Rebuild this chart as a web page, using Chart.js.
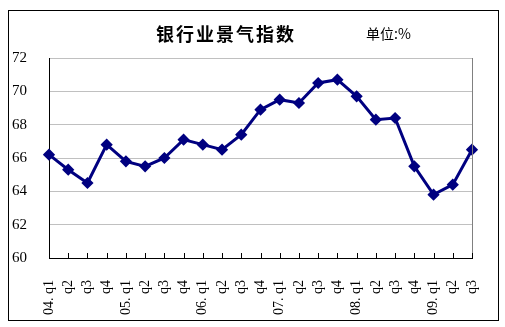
<!DOCTYPE html>
<html lang="zh">
<head>
<meta charset="UTF-8">
<title>银行业景气指数</title>
<style>
    body { margin: 0; background: #fff; }
    .wrap { position: relative; width: 505px; height: 327px; }
    .frame {
        position: absolute; left: 8px; top: 10px; width: 489px; height: 309px;
        border: 1px solid #000; pointer-events: none;
    }
    .title {
        position: absolute; left: 156px; top: 20px;
        font-family: "Noto Sans CJK SC", sans-serif; font-weight: bold;
        font-size: 18px; letter-spacing: 2px; color: #000;
    }
    .unit {
        position: absolute; left: 366px; top: 23px;
        font-family: "Noto Sans CJK SC", sans-serif;
        font-size: 14px; color: #000;
    }
</style>
<script src="https://cdn.jsdelivr.net/npm/chart.js"></script>
</head>
<body>
<div class="wrap">
    <canvas id="chart" width="505" height="327"></canvas>
    <div class="frame"></div>
    <div class="title">银行业景气指数</div>
    <div class="unit">单位:%</div>
</div>
<script>
    var quarters = ['04. q1', 'q2', 'q3', 'q4', '05. q1', 'q2', 'q3', 'q4', '06. q1', 'q2', 'q3', 'q4',
        '07. q1', 'q2', 'q3', 'q4', '08. q1', 'q2', 'q3', 'q4', '09. q1', 'q2', 'q3'];
    var indexValues = [66.2, 65.3, 64.5, 66.8, 65.8, 65.5, 66.0, 67.1, 66.8, 66.5, 67.4, 68.9,
        69.5, 69.3, 70.5, 70.7, 69.7, 68.3, 68.4, 65.5, 63.8, 64.4, 66.5];
    var yMin = 60, yMax = 72, yStep = 2;

    // inward tick marks on the x axis and grey right edge of the plot
    var plotExtras = {
        id: 'plotExtras',
        afterDraw: function (chart) {
            var ctx = chart.ctx, area = chart.chartArea, xs = chart.scales.x;
            ctx.save();
            ctx.strokeStyle = '#808080';
            ctx.lineWidth = 1;
            ctx.beginPath();
            ctx.moveTo(area.right + 0.5, area.top);
            ctx.lineTo(area.right + 0.5, area.bottom);
            ctx.stroke();
            ctx.strokeStyle = '#000';
            for (var i = 0; i < quarters.length; i++) {
                var x = Math.round(xs.getPixelForTick(i)) + 0.5;
                ctx.beginPath();
                ctx.moveTo(x, area.bottom - 5);
                ctx.lineTo(x, area.bottom);
                ctx.stroke();
            }
            ctx.restore();
        }
    };

    new Chart(document.getElementById('chart'), {
        type: 'line',
        data: {
            labels: quarters,
            datasets: [{
                data: indexValues,
                borderColor: '#000080',
                backgroundColor: '#000080',
                borderWidth: 3,
                pointStyle: 'rectRot',
                pointRadius: 4,
                pointHoverRadius: 4,
                tension: 0
            }]
        },
        options: {
            responsive: false,
            animation: false,
            layout: { padding: { left: 10, top: 58, right: 33, bottom: 0 } },
            plugins: { legend: { display: false }, tooltip: { enabled: false } },
            scales: {
                x: {
                    offset: false,
                    afterFit: function (s) {
                        s.height = 69;
                        s.paddingLeft = 0;
                        s.paddingRight = 0;
                    },
                    grid: { display: false, drawTicks: false },
                    border: { color: '#000', width: 1 },
                    ticks: {
                        autoSkip: false, minRotation: 90, maxRotation: 90, padding: 22,
                        color: '#000', font: { family: 'Liberation Serif', size: 14 }
                    }
                },
                y: {
                    min: yMin, max: yMax,
                    afterFit: function (s) {
                        s.width = 39;
                        s.paddingTop = 0;
                        s.paddingBottom = 0;
                    },
                    grid: { color: '#c0c0c0', drawTicks: false },
                    border: { color: '#000', width: 1 },
                    ticks: {
                        stepSize: yStep, padding: 22,
                        color: '#000', font: { family: 'Liberation Serif', size: 15 }
                    }
                }
            }
        },
        plugins: [plotExtras]
    });
</script>
</body>
</html>
